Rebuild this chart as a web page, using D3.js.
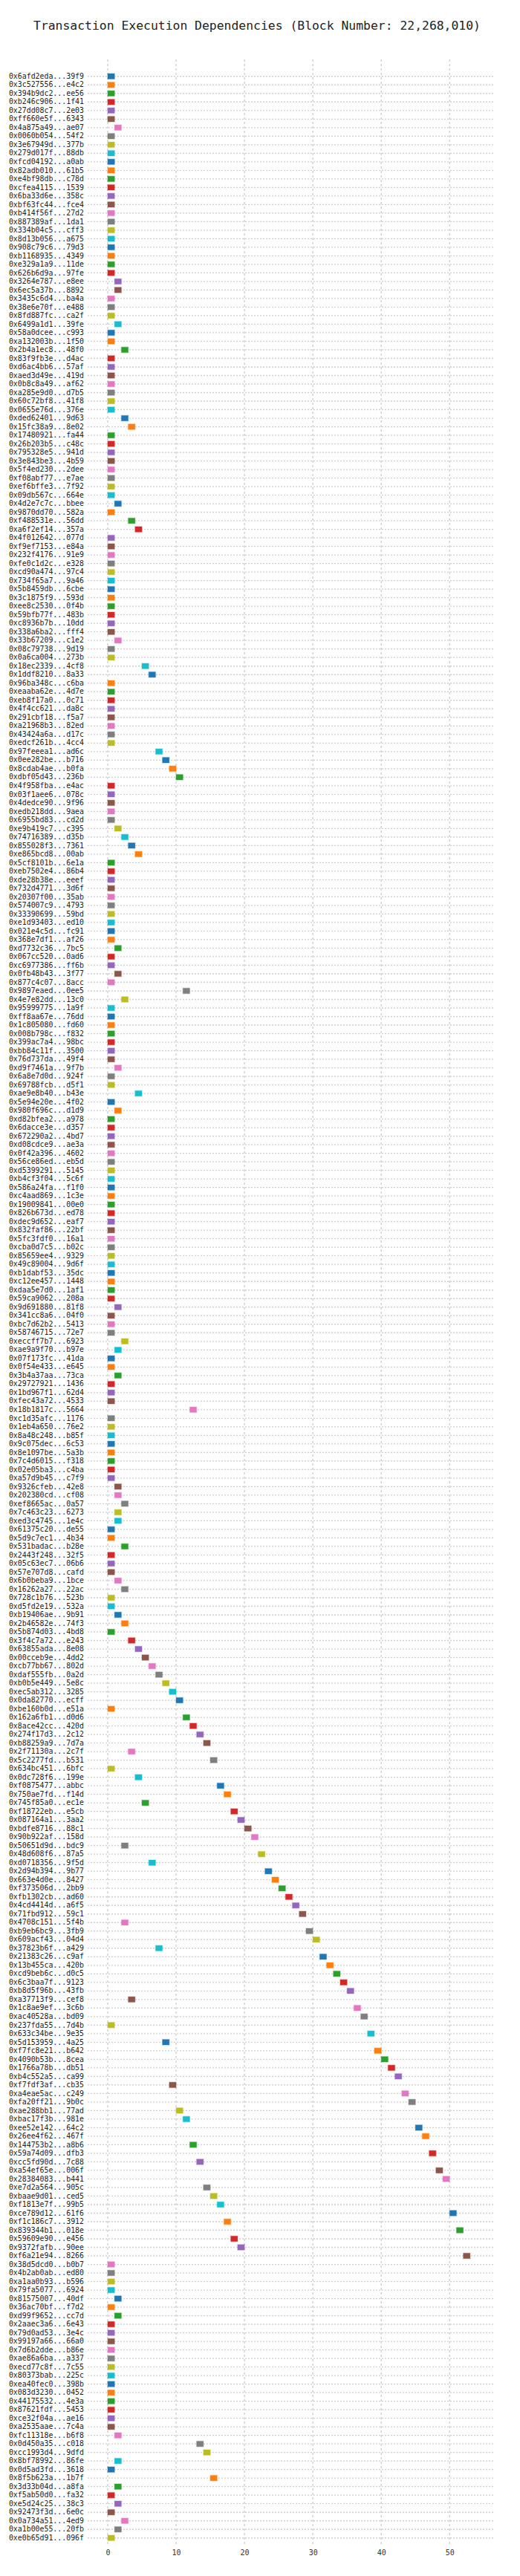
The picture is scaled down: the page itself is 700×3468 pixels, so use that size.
<!DOCTYPE html>
<html><head><meta charset="utf-8">
<script src="https://cdn.jsdelivr.net/npm/d3@7"></script>
<style>body{margin:0;background:#fff}text{font-family:"DejaVu Sans Mono",monospace}</style>
</head><body><svg id="c" width="700" height="3468"></svg>
<script>
const title = "Transaction Execution Dependencies (Block Number: 22,268,010)";
const txHashes = [
"0x6afd2eda...39f9","0x3c527556...e4c2","0x394b9dc2...ee56","0xb246c906...1f41","0x27dd08c7...2e03","0xff660e5f...6343","0x4a875a49...ae07","0x0060b054...54f2","0x3e67949d...377b","0x279d017f...88db","0xfcd04192...a0ab","0x82adb010...61b5","0xe4bf98db...c78d","0xcfea4115...1539","0x6ba33d6e...358c","0xbf63fc44...fce4","0xb414f56f...27d2","0x887389af...1da1","0x334b04c5...cff3","0x8d13b056...a675","0x908c79c6...79d3","0xb1168935...4349","0xe329a1a9...11de",
"0x626b6d9a...97fe","0x3264e787...e8ee","0x6ec5a37b...8892","0x3435c6d4...ba4a","0x38e6e70f...e488","0x8fd887fc...ca2f","0x6499a1d1...39fe","0x58a0dcee...c993","0xa132003b...1f50","0x2b4a1ec8...48f0","0x83f9fb3e...d4ac","0xd6ac4bb6...57af","0xaed3d49e...419d","0x0b8c8a49...af62","0xa285e9d0...d7b5","0x60c72bf8...41f8","0x0655e76d...376e","0xded62401...9d63","0x15fc38a9...8e02","0x17480921...fa44","0x26b203b5...c48c","0x795328e5...941d","0x3e843be3...4b59",
"0x5f4ed230...2dee","0xf08abf77...e7ae","0xef6bffe3...7f92","0x09db567c...664e","0x4d2e7c7c...bbee","0x9870dd70...582a","0xf488531e...56dd","0xa6f2ef14...357a","0x4f012642...077d","0xf9ef7153...e84a","0x232f4176...91e9","0xfe0c1d2c...e328","0xcd90a474...97c4","0x734f65a7...9a46","0x5b8459db...6cbe","0x3c1875f9...593d","0xee8c2530...0f4b","0x59bfb77f...483b","0xc8936b7b...10dd","0x338a6ba2...fff4","0x33b67209...c1e2","0x08c79738...9d19","0x0a6ca004...273b",
"0x18ec2339...4cf8","0x1ddf8210...8a33","0x96ba348c...c6ba","0xeaaba62e...4d7e","0xeb8f17a0...0c71","0x4f4cc621...da8c","0x291cbf18...f5a7","0xa21968b3...82ed","0x43424a6a...d17c","0xedcf261b...4cc4","0x97feeea1...ad6c","0x0ee282be...b716","0x8cdab4ae...b0fa","0xdbf05d43...236b","0x4f958fba...e4ac","0x03f1aee6...078c","0x4dedce90...9f96","0xedb218dd...9aea","0x6955bd83...cd2d","0xe9b419c7...c395","0x74716389...d35b","0x855028f3...7361","0xe865bcd8...00ab",
"0x5cf8101b...6e1a","0xeb7502e4...86b4","0xde28b38e...eeef","0x732d4771...3d6f","0x20307f00...35ab","0x574007c9...4793","0x33390699...59bd","0xe1d93403...ed10","0x021e4c5d...fc91","0x368e7df1...af26","0xd7732c36...7bc5","0x067cc520...0ad6","0xc6977386...ff6b","0x0fb48b43...3f77","0x877c4c07...8acc","0x9897eaed...0ee5","0x4e7e82dd...13c0","0x95999775...1a9f","0xff8aa67e...76dd","0x1c805080...fd60","0x008b798c...f832","0x399ac7a4...98bc",
"0xbb84c11f...3500","0x76d737da...49f4","0xd9f7461a...9f7b","0x6a8e7d0d...924f","0x69788fcb...d5f1","0xae9e8b40...b43e","0x5e94e20e...4f02","0x980f696c...d1d9","0xd82bfea2...a978","0x6dacce3e...d357","0x672290a2...4bd7","0xd08cdce9...ae3a","0x0f42a396...4602","0x56ce86ed...eb5d","0xd5399291...5145","0xb4cf3f04...5c6f","0x586a24fa...f1f0","0xc4aad869...1c3e","0x19009841...00e0","0x826b673d...ed78","0xdec9d652...eaf7","0x832faf86...22bf","0x5fc3fdf0...16a1",
"0xcba0d7c5...b02c","0x85659ee4...9329","0x49c89004...9d6f","0xb1dabf53...35dc","0xc12ee457...1448","0xdaa5e7d0...1af1","0x59ca9062...208a","0x9d691880...81f8","0x341cc8a6...04f0","0xbc7d62b2...5413","0x58746715...72e7","0xeccff7b7...6923","0xae9a9f70...b97e","0x07f173fc...41da","0x0f54e433...e645","0x3b4a37aa...73ca","0x29727921...1436","0x1bd967f1...62d4","0xfec43a72...4533","0x18b1817c...5664","0xc1d35afc...1176","0x1eb4a650...76e2","0x8a48c248...b85f",
"0x9c075dec...6c53","0x8e1097be...5a3b","0x7c4d6015...f318","0x02e05ba3...c4ba","0xa57d9b45...c7f9","0x9326cfeb...42e8","0x202380cd...cf08","0xef8665ac...0a57","0x7c463c23...6273","0xed3c4745...1e4c","0x61375c20...de55","0x5d9c7ec1...4b34","0x531badac...b28e","0x2443f248...32f5","0x05c63ec7...06b6","0x57e707d8...cafd","0x6b0beba9...1bce","0x16262a27...22ac","0x728c1b76...523b","0xd5fd2e19...532a","0xb19406ae...9b91","0x2b46582e...74f3","0x5b874d03...4bd8",
"0x3f4c7a72...e243","0x63855ada...8e08","0x00cceb9e...4dd2","0xcb77bb67...802d","0xdaf555fb...0a2d","0xb0b5e449...5e8c","0xec5ab312...3285","0x0da82770...ecff","0xbe160b0d...e51a","0x162a6fb1...d0d6","0x8ace42cc...420d","0x274f17d3...2c12","0xb88259a9...7d7a","0x2f71130a...2c7f","0x5c2277fd...b531","0x634bc451...6bfc","0x0dc728f6...199e","0xf0875477...abbc","0x750ae7fd...f14d","0x745f85a0...ec1e","0xf18722eb...e5cb","0x087164a1...3aa2","0xbdfe8716...88c1",
"0x90b922af...158d","0x50651d9d...bdc9","0x48d608f6...87a5","0xd0718356...9f5d","0x2d94b394...9b77","0x663e4d0e...8427","0xf373506d...2bb9","0xfb1302cb...ad60","0x4cd4414d...a6f5","0x71fbd912...59c1","0x4708c151...5f4b","0xb9eb6bc9...3fb9","0x609acf43...04d4","0x37823b6f...a429","0x21383c26...c9af","0x13b455ca...420b","0xcd9beb6c...d0c5","0x6c3baa7f...9123","0xb8d5f96b...43fb","0xa37713f9...cef8","0x1c8ae9ef...3c6b","0xac40528a...bd09","0x237fda55...7d4b",
"0x633c34be...9e35","0x5d153959...4a25","0xf7fc8e21...b642","0x4090b53b...8cea","0x1766a78b...db51","0xb4c552a5...ca99","0xf7fdf3af...cb35","0xa4eae5ac...c249","0xfa20ff21...9b0c","0xae288bb1...77ad","0xbac17f3b...981e","0xee52e142...64c2","0x26ee4f62...467f","0x144753b2...a8b6","0x59a74d09...dfb3","0xcc5fd90d...7c88","0xa54ef65e...006f","0x28384083...b441","0xe7d2a564...905c","0xbaae9d01...ced5","0xf1813e7f...99b5","0xce789d12...61f6","0xf1c186c7...3912",
"0x839344b1...018e","0x59609e90...e456","0x9372fafb...90ee","0xf6a21e94...8266","0x38d5dcd0...b0b7","0x4b2ab0ab...ed80","0xa1aa0b93...b596","0x79fa5077...6924","0x81575007...40df","0x36ac70bf...f7d2","0xd99f9652...cc7d","0x2aaec3a6...6e43","0x79d0ad53...3e4c","0x99197a66...66a0","0x7d6b2dde...b86e","0xae86a6ba...a337","0xecd77c8f...7c55","0x80373bab...225c","0xea40fec0...398b","0x083d3230...0452","0x44175532...4e3a","0x87621fdf...5453",
"0xce32f04a...ae16","0xa2535aae...7c4a","0xfc11318e...b6f8","0x0d450a35...c018","0xcc1993d4...9dfd","0x8bf78992...86fe","0x0d5ad3fd...3618","0x8f5b623a...1b7f","0x3d33b04d...a8fa","0xf5ab50d0...fa32","0xe5d24c25...38c3","0x92473f3d...6e0c","0x0a734a51...4ed9","0xa1b00e55...20fb","0xe0b65d91...096f"
];
const startSteps = [
0,0,0,0,0,0,1,0,0,0,0,0,0,0,0,0,0,0,0,0,0,0,0,
0,1,1,0,0,0,1,0,0,2,0,0,0,0,0,0,0,2,3,0,0,0,0,
0,0,0,0,1,0,3,4,0,0,0,0,0,0,0,0,0,0,0,0,1,0,0,
5,6,0,0,0,0,0,0,0,0,7,8,9,10,0,0,0,0,0,1,2,3,4,
0,0,0,0,0,0,0,0,0,0,1,0,0,1,0,11,2,0,0,0,0,0,
0,0,1,0,0,4,0,1,0,0,0,0,0,0,0,0,0,0,0,0,0,0,0,
0,0,0,0,0,0,0,1,0,0,0,2,1,0,0,1,0,0,0,12,0,0,0,
0,0,0,0,0,1,1,2,1,1,0,0,2,0,0,0,1,2,0,0,1,2,0,
3,4,5,6,7,8,9,10,0,11,12,13,14,3,15,0,4,16,17,5,18,19,20,
21,2,22,6,23,24,25,26,27,28,2,29,30,7,31,32,33,34,35,3,36,37,0,
38,8,39,40,41,42,9,43,44,10,11,45,46,12,47,13,48,49,14,15,16,50,17,
51,18,19,52,0,0,0,0,1,0,1,0,0,0,0,0,0,0,0,0,0,0,
0,0,1,13,14,1,0,15,1,0,1,0,2,1,0
];
const xTicks = [0,10,20,30,40,50];
const xMax = 56.6;

const svg = d3.select("#c");
svg.append("text").attr("x",346).attr("y",40).attr("text-anchor","middle")
  .attr("font-size",16.4).attr("fill","#222").text(title);

const x = d3.scaleLinear().domain([0,xMax]).range([145,666]);
const y = d3.scaleBand().domain(txHashes).range([97,3422.5]).paddingInner(0.36).paddingOuter(0.18);
const color = d3.scaleOrdinal(d3.schemeCategory10);

// vertical grid
svg.append("g").selectAll("line").data(xTicks).join("line")
  .attr("x1",d=>x(d)).attr("x2",d=>x(d)).attr("y1",80).attr("y2",3425)
  .attr("stroke","#d0d0d0").attr("stroke-width",1.4).attr("stroke-dasharray","3,3");
// horizontal grid
svg.append("g").selectAll("line").data(txHashes).join("line")
  .attr("x1",118).attr("x2",666)
  .attr("y1",d=>y(d)+y.bandwidth()/2).attr("y2",d=>y(d)+y.bandwidth()/2)
  .attr("stroke","#d0d0d0").attr("stroke-width",1.3).attr("stroke-dasharray","2,2");

// y axis labels
const yAxis = d3.axisLeft(y).tickSize(0).tickPadding(4);
const gy = svg.append("g").attr("transform","translate(117,0)").call(yAxis);
gy.select(".domain").remove();
gy.selectAll("text").attr("font-size",9.9).attr("fill","#222").attr("font-family","DejaVu Sans Mono");

// x axis labels
const xAxis = d3.axisBottom(x).tickValues(xTicks).tickSize(0).tickPadding(8);
const gx = svg.append("g").attr("transform","translate(0,3425)").call(xAxis);
gx.select(".domain").remove();
gx.selectAll("text").attr("font-size",10).attr("fill","#333").attr("font-family","DejaVu Sans Mono");

// marks
svg.append("g").selectAll("rect").data(txHashes).join("rect")
  .attr("x",(d,i)=>x(startSteps[i]))
  .attr("width",(d,i)=>x(startSteps[i]+1)-x(startSteps[i]))
  .attr("y",d=>y(d)).attr("height",y.bandwidth())
  .attr("fill",(d,i)=>color(i))
  .attr("stroke",(d,i)=>color(i)).attr("stroke-opacity",0.3).attr("stroke-width",1.5);
</script></body></html>
